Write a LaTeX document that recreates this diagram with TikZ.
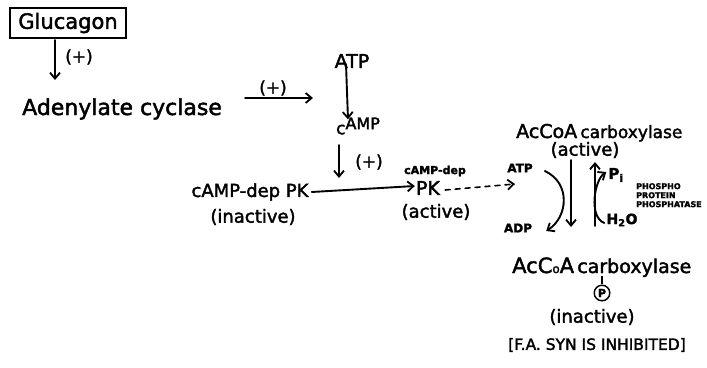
\documentclass[tikz,border=0pt]{standalone}
\usepackage{fontspec}
\setmainfont{DejaVu Sans}[FakeBold=2]
\usetikzlibrary{arrows.meta,calc}
\newcommand{\fs}[1]{\fontsize{#1}{#1}\selectfont}
\begin{document}
\begin{tikzpicture}[x=1pt,y=-1pt,
  lbl/.style={inner sep=0pt, text=black},
  arr/.style={-{Straight Barb[length=6pt,width=10pt,line width=1.8pt]}, line width=1.9pt, line cap=round},
  dasharr/.style={arr, line width=1.6pt, dash pattern=on 5pt off 5pt},
  small/.style={lbl, font=\fs{12}\bfseries},
  plus/.style={lbl, font=\fs{17}}
]
\useasboundingbox (0,0) rectangle (707,367);
\fill[white] (0,0) rectangle (707,367);

% Glucagon
\node[draw, line width=1.5pt, minimum width=116pt, minimum height=30pt, inner sep=0pt, font=\fs{21}] (glu) at (68,23) {Glucagon};
\coordinate (g1) at (55,40);
\coordinate (g2) at (55,80);
\draw[arr] (g1) -- (g2);
\node[plus] (p1) at (79,57) {(+)};

% Adenylate cyclase
\node[lbl, anchor=base west, font=\fs{22}] (ac) at (22,115) {Adenylate cyclase};
\coordinate (a1) at (245,98);
\coordinate (a2) at (313,98);
\draw[arr] (a1) -- (a2);
\node[plus] (p2) at (273,88) {(+)};

% ATP -> cAMP
\node[lbl, font=\fs{19}] (atp) at (352,61) {ATP};
\node[lbl, font=\fs{17}] (camp) at (358,126) {c\raisebox{5pt}{\fs{16}AMP}};
\draw[arr] ([xshift=-6pt,yshift=4pt]atp.south) -- ([xshift=-10pt,yshift=-2pt]camp.north);
\coordinate (c1) at (339,145);
\coordinate (c2) at (339,178);
\draw[arr] (c1) -- (c2);
\node[plus] (p3) at (369,162) {(+)};

% PK inactive
\node[lbl, font=\fs{18}] (pki) at (250,192) {cAMP-dep PK};
\node[lbl, font=\fs{18}] (pkil) at (253,217) {(inactive)};

% PK active
\node[lbl, font=\fs{19}] (pka) at (428,188) {PK};
\node[lbl, font=\fs{11}\bfseries] (pkat) at (435,171) {cAMP-dep};
\node[lbl, font=\fs{18}] (pkal) at (436,212) {(active)};
\draw[arr] ([xshift=3pt]pki.east) -- ([xshift=-1pt,yshift=2pt]pka.west);

% dashed to ATP
\node[small] (atps) at (520,168) {ATP};
\node[small] (adps) at (518,228) {ADP};
\coordinate (d2) at (515,184);
\draw[dasharr] ([xshift=5pt,yshift=-2pt]pka.east) -- (d2);

% AcCoA carboxylase active
\node[lbl, anchor=base west] (acca) at (516,138) {{\fs{19}AcCoA} {\fs{17}carboxylase}};
\node[lbl, font=\fs{18}] (accal) at (585,150) {(active)};

% curved arrows
\draw[arr] ([xshift=12pt,yshift=-3pt]atps.east) .. controls +(26,12) and +(22,-14) .. ([xshift=14pt,yshift=-3pt]adps.east);
\coordinate (v1) at (571,160);
\coordinate (v2) at (571,227);
\draw[arr] (v1) -- (v2);
\coordinate (u1) at (595,226);
\coordinate (u2) at (595,162);
\draw[arr] (u1) -- (u2);

\node[lbl, font=\fs{15}\bfseries] (pi) at (616,175) {P\textsubscript{i}};
\node[lbl, font=\fs{14}\bfseries] (h2o) at (622,220) {H\textsubscript{2}O};
\draw[arr] ([xshift=-2pt,yshift=-3pt]h2o.west) .. controls +(-16,-6) and +(-12,8) .. ([xshift=-2pt,yshift=3pt]pi.west);

\node[lbl, anchor=north west, align=left, font=\fs{8}\bfseries] (ppp) at (636,183) {PHOSPHO\\[1pt]PROTEIN\\[1pt]PHOSPHATASE};

% AcCoA carboxylase inactive
\node[lbl, anchor=base west] (acci) at (512,273) {{\fs{21}AcC{\fs{12}o}A} {\fs{19}carboxylase}};
\node[draw, circle, line width=1.5pt, inner sep=1.5pt, font=\fs{11}\bfseries] (ph) at (602,293) {P};
\coordinate (st) at (602,276);
\draw[line width=1.5pt] (ph.north) -- (st);
\node[lbl, font=\fs{18}] (accil) at (592,317) {(inactive)};
\node[lbl, font=\fs{15.5}] (fa) at (597,345) {[F.A. SYN IS INHIBITED]};
\end{tikzpicture}
\end{document}
